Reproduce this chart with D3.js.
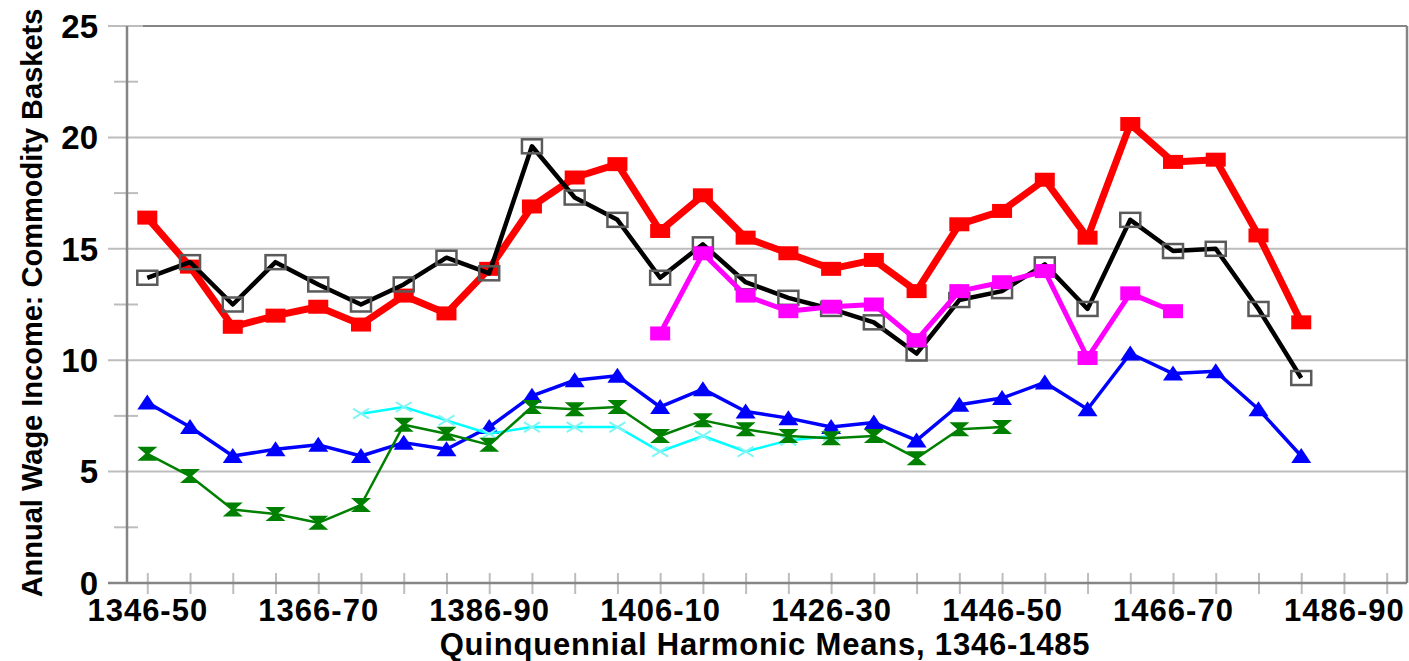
<!DOCTYPE html>
<html>
<head>
<meta charset="utf-8">
<script src="https://cdn.jsdelivr.net/npm/d3@7"></script>
<style>
  body { margin: 0; background: #fff; }
  text { font-family: "Liberation Sans", Arial, sans-serif; fill: #000; font-weight: bold; }
</style>
</head>
<body>
<div id="chart"></div>
<script>
// Quinquennial periods (x categories)
var periods = ["1346-50", "1351-55", "1356-60", "1361-65", "1366-70", "1371-75",
  "1376-80", "1381-85", "1386-90", "1391-95", "1396-00", "1401-05", "1406-10",
  "1411-15", "1416-20", "1421-25", "1426-30", "1431-35", "1436-40", "1441-45",
  "1446-50", "1451-55", "1456-60", "1461-65", "1466-70", "1471-75", "1476-80",
  "1481-85", "1486-90", "1491-95"];
// Labelled periods on the x axis
var xTickLabels = ["1346-50", "1366-70", "1386-90", "1406-10", "1426-30",
  "1446-50", "1466-70", "1486-90"];
var yTicks = [0, 5, 10, 15, 20, 25];
var yMinorTicks = [2.5, 7.5, 12.5, 17.5, 22.5];

// Series values (annual wage income in commodity baskets), null = no data
var redValues = [16.4, 14.2, 11.5, 12.0, 12.4, 11.6, 12.9, 12.1, 14.1, 16.9,
  18.2, 18.8, 15.8, 17.4, 15.5, 14.8, 14.1, 14.5, 13.1, 16.1,
  16.7, 18.1, 15.5, 20.6, 18.9, 19.0, 15.6, 11.7, null, null];
var blackValues = [13.7, 14.4, 12.5, 14.4, 13.4, 12.5, 13.4, 14.6, 13.9, 19.6,
  17.3, 16.3, 13.7, 15.2, 13.5, 12.8, 12.3, 11.7, 10.3, 12.7,
  13.1, 14.3, 12.3, 16.3, 14.9, 15.0, 12.3, 9.2, null, null];
var magentaValues = [null, null, null, null, null, null, null, null, null, null,
  null, null, 11.2, 14.8, 12.9, 12.2, 12.4, 12.5, 10.9, 13.1,
  13.5, 14.0, 10.1, 13.0, 12.2, null, null, null, null, null];
var blueValues = [8.1, 7.0, 5.7, 6.0, 6.2, 5.7, 6.3, 6.0, 7.0, 8.4,
  9.1, 9.3, 7.9, 8.7, 7.7, 7.4, 7.0, 7.2, 6.4, 8.0,
  8.3, 9.0, 7.8, 10.3, 9.4, 9.5, 7.8, 5.7, null, null];
var cyanValues = [null, null, null, null, null, 7.6, 7.9, 7.3, 6.7, 7.0,
  7.0, 7.0, 5.9, 6.6, 5.9, 6.4, 6.6, null, null, null,
  null, null, null, null, null, null, null, null, null, null];
var greenValues = [5.8, 4.8, 3.3, 3.1, 2.7, 3.5, 7.1, 6.7, 6.2, 7.9,
  7.8, 7.9, 6.6, 7.3, 6.9, 6.6, 6.5, 6.6, 5.6, 6.9,
  7.0, null, null, null, null, null, null, null, null, null];

// Series styles, drawn bottom to top
var series = [
  {values: redValues, color: "#ff0000", width: 7, marker: "square"},
  {values: blackValues, color: "#000000", width: 4.5, marker: "open"},
  {values: magentaValues, color: "#ff00ff", width: 5, marker: "square"},
  {values: blueValues, color: "#0000ff", width: 3.5, marker: "triangle"},
  {values: cyanValues, color: "#00ffff", width: 2.5, marker: "cross"},
  {values: greenValues, color: "#008000", width: 2.5, marker: "hourglass"}
];

var svgWidth = 1409;
var svgHeight = 661;
var margin = {top: 26, right: 2, bottom: 78, left: 127};
var width = svgWidth - margin.left - margin.right;
var height = svgHeight - margin.top - margin.bottom;

var svg = d3.select("#chart")
  .append("svg")
  .attr("width", svgWidth)
  .attr("height", svgHeight);

var chartGroup = svg.append("g")
  .attr("transform", `translate(${margin.left}, ${margin.top})`);

// scales
var xScale = d3.scalePoint()
  .domain(periods)
  .range([0, width])
  .padding(0.475);
var yScale = d3.scaleLinear()
  .domain([0, 25])
  .range([height, 0]);

// horizontal gridlines
chartGroup.append("g")
  .selectAll("line")
  .data(yTicks)
  .enter()
  .append("line")
  .attr("x1", -19)
  .attr("x2", width)
  .attr("y1", d => yScale(d))
  .attr("y2", d => yScale(d))
  .attr("stroke", "#bdbdbd")
  .attr("stroke-width", 2);

// minor y ticks
chartGroup.append("g")
  .selectAll("line")
  .data(yMinorTicks)
  .enter()
  .append("line")
  .attr("x1", -13)
  .attr("x2", 11)
  .attr("y1", d => yScale(d))
  .attr("y2", d => yScale(d))
  .attr("stroke", "#bdbdbd")
  .attr("stroke-width", 2);

// x axis
var bottomAxis = d3.axisBottom(xScale)
  .tickSize(11)
  .tickFormat(d => xTickLabels.indexOf(d) >= 0 ? d : "");
var xAxis = chartGroup.append("g")
  .attr("transform", `translate(0, ${height})`)
  .call(bottomAxis);
xAxis.select(".domain").remove();
xAxis.selectAll(".tick line")
  .attr("y1", -10)
  .attr("stroke", "#bdbdbd")
  .attr("stroke-width", 2);
xAxis.selectAll(".tick text")
  .attr("y", 38)
  .attr("dy", 0)
  .style("font-size", "31px")
  .style("letter-spacing", "1px");

// y axis labels
var leftAxis = d3.axisLeft(yScale)
  .tickValues(yTicks)
  .tickSize(0)
  .tickPadding(29);
var yAxis = chartGroup.append("g")
  .call(leftAxis);
yAxis.select(".domain").remove();
yAxis.selectAll(".tick text")
  .attr("dy", "0.34em")
  .style("font-size", "33px");

// plot frame
chartGroup.append("line")
  .attr("x1", -19).attr("x2", width)
  .attr("y1", height).attr("y2", height)
  .attr("stroke", "#858585").attr("stroke-width", 2.5);
chartGroup.append("line")
  .attr("x1", 0).attr("x2", 0)
  .attr("y1", 0).attr("y2", height)
  .attr("stroke", "#858585").attr("stroke-width", 2.5);
chartGroup.append("line")
  .attr("x1", width).attr("x2", width)
  .attr("y1", 0).attr("y2", height)
  .attr("stroke", "#858585").attr("stroke-width", 2.5);
chartGroup.append("line")
  .attr("x1", 16).attr("x2", width)
  .attr("y1", 0).attr("y2", 0)
  .attr("stroke", "#858585").attr("stroke-width", 2);

// marker shapes
var markerPaths = {
  triangle: "M0,-8L10,7L-10,7Z",
  hourglass: "M-10,-7H10L2,0L10,7H-10L-2,0Z",
  cross: "M-8,-5L8,5M-8,5L8,-5"
};

var line = d3.line()
  .defined(d => d.v !== null)
  .x(d => xScale(d.p))
  .y(d => yScale(d.v));

series.forEach(s => {
  var pts = s.values.map((v, i) => ({p: periods[i], v: v}));
  var g = chartGroup.append("g");

  g.append("path")
    .datum(pts)
    .attr("fill", "none")
    .attr("stroke", s.color)
    .attr("stroke-width", s.width)
    .attr("stroke-linejoin", "round")
    .attr("d", line);

  var valid = pts.filter(d => d.v !== null);
  if (s.marker === "square" || s.marker === "open") {
    g.selectAll("rect")
      .data(valid)
      .enter()
      .append("rect")
      .attr("x", d => xScale(d.p) - 10)
      .attr("y", d => yScale(d.v) - 7)
      .attr("width", 20)
      .attr("height", 14)
      .attr("fill", s.marker === "square" ? s.color : "none")
      .attr("stroke", s.marker === "square" ? "none" : "#5a5a5a")
      .attr("stroke-width", 2.5);
  } else {
    g.selectAll(".marker")
      .data(valid)
      .enter()
      .append("path")
      .attr("class", "marker")
      .attr("transform", d => `translate(${xScale(d.p)}, ${yScale(d.v)})`)
      .attr("d", markerPaths[s.marker])
      .attr("fill", s.marker === "cross" ? "none" : s.color)
      .attr("stroke", s.marker === "cross" ? "#7ff5f5" : "none")
      .attr("stroke-width", 2);
  }
});

// axis titles
svg.append("text")
  .attr("x", 765)
  .attr("y", 655)
  .attr("text-anchor", "middle")
  .style("font-size", "31px")
  .style("letter-spacing", "0.8px")
  .text("Quinquennial Harmonic Means, 1346-1485");

svg.append("text")
  .attr("transform", "translate(42, 303) rotate(-90)")
  .attr("text-anchor", "middle")
  .style("font-size", "29px")
  .text("Annual Wage Income: Commodity Baskets");
</script>
</body>
</html>
